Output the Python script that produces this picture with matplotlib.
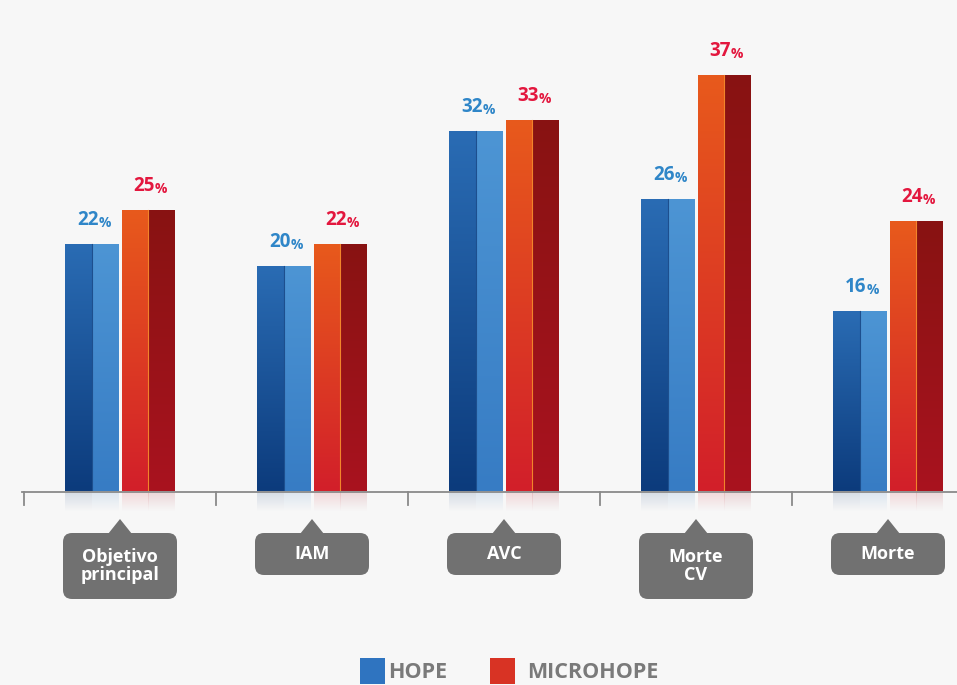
import numpy as np
import matplotlib.pyplot as plt
from matplotlib.colors import LinearSegmentedColormap
from matplotlib.patches import FancyBboxPatch, Polygon, Rectangle

plt.rcParams['font.family'] = ['Open Sans', 'DejaVu Sans']

# data
categories = ["Objetivo\nprincipal", "IAM", "AVC", "Morte\nCV", "Morte"]
hope = [22, 20, 32, 26, 16]
microhope = [25, 22, 33, 37, 24]
series_names = ["HOPE", "MICROHOPE"]

BG = '#f7f7f7'
W, H = 957, 685
px_per_unit = 11.25      # pixels per percentage point
group_px = 192           # pixels between group centres
base_px = 194            # baseline height above bottom edge (pixels)
x0_px = 120              # first group centre

fig = plt.figure(figsize=(W / 100, H / 100), dpi=100, facecolor=BG)
ax = fig.add_axes([0, 0, 1, 1])
ax.set_facecolor(BG)
ax.set_xlim(-x0_px / group_px, (W - x0_px) / group_px)
ax.set_ylim(-base_px / px_per_unit, (H - base_px) / px_per_unit)
ax.axis('off')

bar_w = 53 / group_px
half = bar_w / 2
offset = 0.146


def gradient_rect(ax, x, h, w, top, bottom, alpha=1.0, z=3):
    """Rectangle from x to x+w, 0..h, filled with a vertical gradient."""
    rect = ax.bar(x, h, width=w, align='edge', color='none',
                  linewidth=0, zorder=z)[0]
    cmap = LinearSegmentedColormap.from_list('g', [bottom, top])
    grad = np.linspace(0, 1, 256).reshape(-1, 1)
    ymin, ymax = min(0, h), max(0, h)
    im = ax.imshow(grad, cmap=cmap, origin='lower', aspect='auto',
                   extent=(x, x + w, ymin, ymax), zorder=z, alpha=alpha,
                   interpolation='bicubic')
    im.set_clip_path(rect)
    return rect


styles = {
    "HOPE": dict(left=('#2a6cb4', '#0c3b7c'), right=('#4d95d4', '#377cc4'),
                 seam='#1d4f8e', label='#2f86c8'),
    "MICROHOPE": dict(left=('#e85a1c', '#d21f2a'), right=('#881212', '#a9131f'),
                      seam='#f2842a', label='#e3173e'),
}

xs = np.arange(len(categories))
for name, vals, sign in [("HOPE", hope, -1), ("MICROHOPE", microhope, 1)]:
    st = styles[name]
    for xi, v in zip(xs, vals):
        cx = xi + sign * offset
        gradient_rect(ax, cx - half, v, half, *st['left'])
        gradient_rect(ax, cx, v, half, *st['right'])
        ax.plot([cx, cx], [0.1, v], color=st['seam'], lw=0.8, zorder=4)
        # faint reflection below the baseline
        gradient_rect(ax, cx - half, -1.8, half, st['left'][1], BG, alpha=0.16, z=2)
        gradient_rect(ax, cx, -1.8, half, st['right'][1], BG, alpha=0.16, z=2)
        # value label, with a smaller percent sign
        ax.annotate(f"{v}", (cx + 0.035, v), xytext=(0, 10), textcoords='offset points',
                    ha='right', va='bottom', fontsize=13.5, fontweight='bold',
                    color=st['label'], zorder=6)
        ax.annotate("%", (cx + 0.035, v), xytext=(0, 10), textcoords='offset points',
                    ha='left', va='bottom', fontsize=10, fontweight='bold',
                    color=st['label'], zorder=6)

# baseline with separating ticks
ax.plot([-0.51, ax.get_xlim()[1]], [-0.1, -0.1], color='#8a8a8a', lw=1.3, zorder=5)
for t in np.arange(len(categories)) - 0.5:
    ax.plot([t, t], [-0.1, -1.2], color='#8a8a8a', lw=1.3, zorder=5)

# category tags drawn in pixel space
deco = fig.add_axes([0, 0, 1, 1], facecolor='none')
deco.set_xlim(0, W)
deco.set_ylim(0, H)
deco.axis('off')

tag_color = '#717171'
for xi, cat in zip(xs, categories):
    cx = ax.transData.transform((xi, 0))[0]
    lines = cat.count('\n') + 1
    top = H - 533
    height = 42 if lines == 1 else 66
    box = FancyBboxPatch((cx - 57, top - height), 114, height,
                         boxstyle='round,pad=0,rounding_size=9',
                         facecolor=tag_color, edgecolor='none', zorder=5)
    deco.add_patch(box)
    deco.add_patch(Polygon([[cx - 12, top - 1], [cx + 12, top - 1], [cx, top + 14]],
                           closed=True, facecolor=tag_color, edgecolor='none',
                           joinstyle='round', zorder=5))
    deco.text(cx, top - height / 2, cat, ha='center', va='center', color='white',
              fontsize=13, fontweight='bold', linespacing=0.95, zorder=6)

# legend
leg_y = H - 684
deco.add_patch(Rectangle((360, leg_y), 25, 26, facecolor='#2f74c0', edgecolor='none'))
deco.text(388, leg_y + 12, series_names[0], ha='left', va='center',
          fontsize=15.5, fontweight='bold', color='#7a7a7a')
deco.add_patch(Rectangle((490, leg_y), 25, 26, facecolor='#d83324', edgecolor='none'))
deco.text(527, leg_y + 12, series_names[1], ha='left', va='center',
          fontsize=15.5, fontweight='bold', color='#7a7a7a')

fig.savefig('out.png', dpi=100, facecolor=BG)
